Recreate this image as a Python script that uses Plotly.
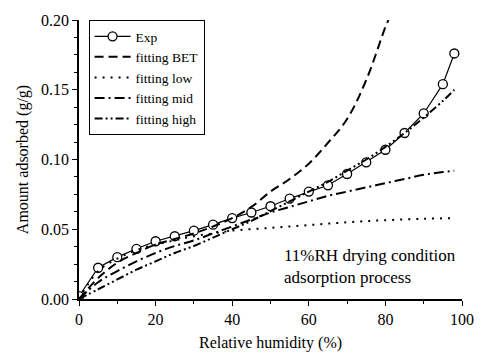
import plotly.graph_objects as go

# Experimental data
exp_x = [0, 5, 10, 15, 20, 25, 30, 35, 40, 45, 50, 55, 60, 65, 70, 75, 80, 85, 90, 95, 98]
exp_y = [0.002, 0.0224, 0.030, 0.036, 0.0414, 0.045, 0.049, 0.0533, 0.058, 0.062, 0.0665,
         0.072, 0.077, 0.0815, 0.0896, 0.098, 0.107, 0.119, 0.133, 0.154, 0.176]

# Fitting curves
bet_x = [0, 5, 10, 15, 20, 25, 30, 35, 40, 45, 50, 55, 60, 65, 70, 75, 80, 80.8]
bet_y = [0.0, 0.015, 0.026, 0.033, 0.039, 0.043, 0.047, 0.052, 0.058, 0.066, 0.077,
         0.086, 0.097, 0.112, 0.129, 0.157, 0.195, 0.200]

low_x = [0, 5, 10, 15, 20, 25, 30, 35, 40, 50, 60, 70, 80, 90, 98]
low_y = [0.0, 0.020, 0.029, 0.035, 0.039, 0.042, 0.045, 0.047, 0.049, 0.051, 0.053,
         0.055, 0.0565, 0.0575, 0.058]

mid_x = [0, 5, 10, 15, 20, 25, 30, 35, 40, 45, 50, 55, 60, 65, 70, 75, 80, 85, 90, 95, 98]
mid_y = [0.0, 0.012, 0.020, 0.027, 0.033, 0.038, 0.042, 0.047, 0.052, 0.057, 0.062,
         0.066, 0.070, 0.074, 0.077, 0.080, 0.083, 0.086, 0.089, 0.091, 0.092]

high_x = [0, 5, 10, 15, 20, 25, 30, 35, 40, 45, 50, 55, 60, 65, 70, 75, 80, 85, 90, 95, 98]
high_y = [0.0, 0.007, 0.014, 0.021, 0.027, 0.033, 0.038, 0.044, 0.050, 0.056, 0.063,
          0.070, 0.077, 0.084, 0.092, 0.100, 0.109, 0.119, 0.130, 0.142, 0.150]

FONT = "Liberation Serif, Times New Roman, serif"

fig = go.Figure()
fig.add_trace(go.Scatter(x=exp_x, y=exp_y, mode="lines+markers", name="Exp",
                         line=dict(color="black", width=1.2),
                         marker=dict(symbol="circle", size=9, color="white",
                                     line=dict(color="black", width=1.3))))
fig.add_trace(go.Scatter(x=bet_x, y=bet_y, mode="lines", name="fitting BET",
                         line=dict(color="black", width=2, dash="9px,5px", shape="spline")))
fig.add_trace(go.Scatter(x=low_x, y=low_y, mode="lines", name="fitting low",
                         line=dict(color="black", width=2, dash="2px,6px", shape="spline")))
fig.add_trace(go.Scatter(x=mid_x, y=mid_y, mode="lines", name="fitting mid",
                         line=dict(color="black", width=2, dash="10px,4px,2px,4px", shape="spline")))
fig.add_trace(go.Scatter(x=high_x, y=high_y, mode="lines", name="fitting high",
                         line=dict(color="black", width=2, dash="8px,3px,2px,3px,2px,3px", shape="spline")))

fig.add_annotation(x=0.53, y=0.0, xref="paper", yref="paper", xanchor="left", yanchor="bottom",
                   yshift=10, text="11%RH drying condition<br>adsorption process", showarrow=False,
                   align="left", font=dict(family=FONT, size=17, color="black"))

axis_common = dict(showline=True, linecolor="black", linewidth=1.5, showgrid=False,
                   zeroline=False, ticks="outside", tickcolor="black", ticklen=5, tickwidth=1.3,
                   mirror=False, tickfont=dict(family=FONT, size=16, color="black"))

fig.update_xaxes(range=[0, 100], dtick=20, tick0=0,
                 minor=dict(dtick=10, ticks="outside", ticklen=3, tickcolor="black", tickwidth=1.2),
                 title=dict(text="Relative humidity (%)", font=dict(family=FONT, size=16, color="black"),
                            standoff=10),
                 **axis_common)
fig.update_yaxes(range=[0, 0.2], dtick=0.05, tick0=0, tickformat=".2f",
                 minor=dict(dtick=0.0125, ticks="outside", ticklen=3, tickcolor="black", tickwidth=1.2),
                 title=dict(text="Amount adsorbed (g/g)", font=dict(family=FONT, size=16, color="black"),
                            standoff=8),
                 **axis_common)

fig.update_layout(width=486, height=361, margin=dict(l=79, r=18, t=16, b=57),
                  plot_bgcolor="white", paper_bgcolor="white",
                  font=dict(family=FONT, color="black"),
                  legend=dict(x=0.025, y=1.0, xanchor="left", yanchor="top",
                              bordercolor="black", borderwidth=1, bgcolor="white",
                              font=dict(family=FONT, size=13.5, color="black"),
                              tracegroupgap=0, itemwidth=36))

fig.write_html("out.html")
